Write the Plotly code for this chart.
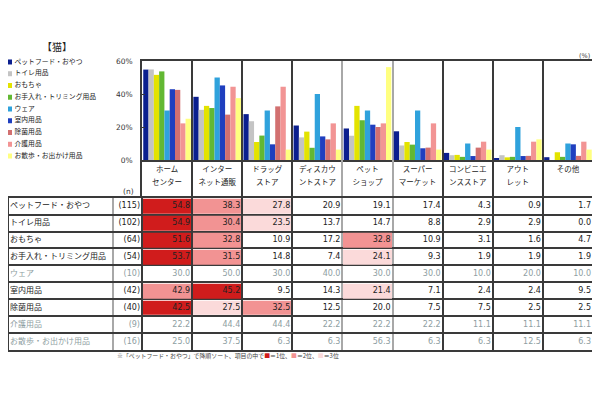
import plotly.graph_objects as go

# ---------------- data ----------------
store_line1 = ['ホーム', 'インター', 'ドラッグ', 'ディスカウ', 'ペット', 'スーパー', 'コンビニエ', 'アウト', 'その他']
store_line2 = ['センター', 'ネット通販', 'ストア', 'ントストア', 'ショップ', 'マーケット', 'ンスストア', 'レット', '']

items = ['ペットフード・おやつ', 'トイレ用品', 'おもちゃ', 'お手入れ・トリミング用品', 'ウェア',
         '室内用品', '除菌用品', '介護用品', 'お散歩・お出かけ用品']
n_counts = [115, 102, 64, 54, 10, 42, 40, 9, 16]

pet_food = [54.8, 38.3, 27.8, 20.9, 19.1, 17.4, 4.3, 0.9, 1.7]
toilet = [54.9, 30.4, 23.5, 13.7, 14.7, 8.8, 2.9, 2.9, 0.0]
toys = [51.6, 32.8, 10.9, 17.2, 32.8, 10.9, 3.1, 1.6, 4.7]
grooming = [53.7, 31.5, 14.8, 7.4, 24.1, 9.3, 1.9, 1.9, 1.9]
wear = [30.0, 50.0, 30.0, 40.0, 30.0, 30.0, 10.0, 20.0, 10.0]
indoor = [42.9, 45.2, 9.5, 14.3, 21.4, 7.1, 2.4, 2.4, 9.5]
disinfect = [42.5, 27.5, 32.5, 12.5, 20.0, 7.5, 7.5, 2.5, 2.5]
care = [22.2, 44.4, 44.4, 22.2, 22.2, 22.2, 11.1, 11.1, 11.1]
walk = [25.0, 37.5, 6.3, 6.3, 56.3, 6.3, 6.3, 12.5, 6.3]
rows = [pet_food, toilet, toys, grooming, wear, indoor, disinfect, care, walk]

y_ticks = [0, 20, 40, 60]
y_tick_text = ['0%', '20%', '40%', '60%']

# ---------------- styles ----------------
series_colors = ['#0b1f8f', '#c4c4c4', '#e3e300', '#62b833', '#2fa2dc',
                 '#1f3fbf', '#d27070', '#f29494', '#ffff80']
rank_colors = ['#d01c1c', '#f29393', '#fbdada']
dark = '#3a3a3a'
light_line = '#a8a8a8'
gray_text = '#8e9ea2'
jp = 'Noto Sans CJK JP'
num = 'DejaVu Sans'
OFF = 8                          # default page body margin
W, H = 600 - OFF, 399 - 2 * OFF  # figure size so the page never scrolls
small_n = 30


def px(p):
    return (p - OFF) / W


def py(p):
    return 1 - (p - OFF) / H


store_idx = list(range(len(store_line1)))
ncol = len(store_idx)
nrow = len(items)
unit = (593 - 142) / ncol
left_edge = -0.5 - (142 - 8.5) / unit
n_edge = -0.5 - (142 - 113) / unit


def ranks(row):
    return [1 + sum(1 for w in row if w > v) for v in row]


fig = go.Figure()

# bars
for name, row, col in zip(items, rows, series_colors):
    fig.add_trace(go.Bar(x=store_idx, y=row, name=name, marker_color=col,
                         marker_line_width=0, xaxis='x', yaxis='y',
                         hoverinfo='skip', showlegend=False))

# header labels
fig.add_trace(go.Scatter(x=store_idx, y=[0.735] * ncol, text=store_line1, mode='text',
                         textfont=dict(family=jp, size=7.5, color='#222'),
                         xaxis='x2', yaxis='y2', hoverinfo='skip', showlegend=False,
                         cliponaxis=False))
fig.add_trace(go.Scatter(x=store_idx, y=[0.39] * ncol, text=store_line2, mode='text',
                         textfont=dict(family=jp, size=7.5, color='#222'),
                         xaxis='x2', yaxis='y2', hoverinfo='skip', showlegend=False,
                         cliponaxis=False))

# table highlight cells
z = []
for n, row in zip(n_counts, rows):
    r = ranks(row)
    z.append([rk if (n >= small_n and rk <= 3) else None for rk in r])
fig.add_trace(go.Heatmap(x=store_idx, y=list(range(nrow)), z=z, zmin=1, zmax=3,
                         colorscale=[[0, rank_colors[0]], [0.5, rank_colors[1]], [1, rank_colors[2]]],
                         showscale=False, xgap=2, ygap=2, hoverinfo='skip',
                         xaxis='x3', yaxis='y3'))

row_colors = ['#222' if n >= small_n else gray_text for n in n_counts]

# row labels
fig.add_trace(go.Scatter(x=[left_edge + 0.03] * nrow, y=list(range(nrow)), text=items,
                         mode='text', textposition='middle right',
                         textfont=dict(family=jp, size=8, color=row_colors),
                         xaxis='x3', yaxis='y3', hoverinfo='skip', showlegend=False,
                         cliponaxis=False))
# n column
fig.add_trace(go.Scatter(x=[-0.5 - 0.04] * nrow, y=list(range(nrow)),
                         text=['(%d)' % n for n in n_counts],
                         mode='text', textposition='middle left',
                         textfont=dict(family=num, size=8, color=row_colors),
                         xaxis='x3', yaxis='y3', hoverinfo='skip', showlegend=False,
                         cliponaxis=False))
# values
vx, vy, vt, vc = [], [], [], []
for i, row in enumerate(rows):
    for j, v in enumerate(row):
        vx.append(j + 0.46)
        vy.append(i)
        vt.append('%.1f' % v)
        vc.append(row_colors[i])
fig.add_trace(go.Scatter(x=vx, y=vy, text=vt, mode='text', textposition='middle left',
                         textfont=dict(family=num, size=8, color=vc),
                         xaxis='x3', yaxis='y3', hoverinfo='skip', showlegend=False,
                         cliponaxis=False))

# legend (manual)
fig.add_trace(go.Scatter(x=[9.5] * nrow, y=list(range(nrow)), mode='markers',
                         marker=dict(symbol='square', size=5, color=series_colors, line_width=0),
                         xaxis='x4', yaxis='y4', hoverinfo='skip', showlegend=False,
                         cliponaxis=False))
fig.add_trace(go.Scatter(x=[14.5] * nrow, y=list(range(nrow)), text=items, mode='text',
                         textposition='middle right',
                         textfont=dict(family=jp, size=6.8, color='#222'),
                         xaxis='x4', yaxis='y4', hoverinfo='skip', showlegend=False,
                         cliponaxis=False))

boundaries = [k + 0.5 for k in range(ncol - 1)]
light_bounds = [3.5, 4.5]
dark_bounds = [b for b in boundaries if b not in light_bounds]

xdom = [px(142), px(593)]
common_x = dict(range=[-0.5, ncol - 0.5], tickmode='array', tickvals=dark_bounds,
                showticklabels=False, ticks='', showgrid=True, gridcolor=dark, gridwidth=1.5,
                minor=dict(tickmode='array', tickvals=light_bounds, showgrid=True,
                           gridcolor=light_line, gridwidth=1.5, ticks=''),
                zeroline=False, fixedrange=True)

fig.update_layout(
    width=W, height=H, autosize=False,
    margin=dict(l=0, r=0, t=0, b=0),
    paper_bgcolor='white', plot_bgcolor='rgba(0,0,0,0)',
    barmode='group', bargap=0.05, bargroupgap=0,
    showlegend=False,
    xaxis=dict(domain=xdom, anchor='y', showline=True, linecolor=dark, linewidth=1.5,
               mirror=True, automargin=False, **common_x),
    yaxis=dict(domain=[py(160), py(61)], anchor='x', range=[0, 60], tickmode='array',
               tickvals=y_ticks, ticktext=y_tick_text, showgrid=False, zeroline=False,
               showline=True, linecolor=dark, linewidth=1.5, mirror=True,
               ticks='inside', ticklen=3, tickcolor=dark, ticklabelstandoff=6,
               tickfont=dict(family=num, size=7.5, color='#333'), fixedrange=True,
               automargin=False),
    xaxis2=dict(domain=xdom, anchor='y2', showline=False, automargin=False, **common_x),
    yaxis2=dict(domain=[py(197.7), py(160)], anchor='x2', range=[0, 1], showgrid=False,
                zeroline=False, showticklabels=False, ticks='', showline=True,
                linecolor=dark, linewidth=1.5, mirror=True, fixedrange=True,
                automargin=False),
    xaxis3=dict(domain=[px(8.5), px(593)], anchor='y3', range=[left_edge, ncol - 0.5],
                tickmode='array', tickvals=[-0.5] + dark_bounds, showticklabels=False,
                ticks='', showgrid=True, gridcolor=dark, gridwidth=1.5,
                minor=dict(tickmode='array', tickvals=[n_edge] + light_bounds, showgrid=True,
                           gridcolor=light_line, gridwidth=1.5, ticks=''),
                zeroline=False, showline=True, linecolor=dark, linewidth=2, mirror=True,
                fixedrange=True, automargin=False),
    yaxis3=dict(domain=[py(350), py(197.7)], anchor='x3', range=[nrow - 0.5, -0.5],
                tickmode='array', tickvals=[k + 0.5 for k in range(nrow - 1)],
                showticklabels=False, ticks='', showgrid=True, gridcolor=dark, gridwidth=1.5,
                zeroline=False, showline=True, linecolor=dark, linewidth=2, mirror=True,
                fixedrange=True, automargin=False),
    xaxis4=dict(domain=[px(8), px(140)], anchor='y4', range=[8, 140], visible=False,
                fixedrange=True),
    yaxis4=dict(domain=[py(161.9), py(56.1)], anchor='x4', range=[nrow - 0.5, -0.5],
                visible=False, fixedrange=True),
    annotations=[
        dict(text='【猫】', x=px(57), y=py(46), xref='paper', yref='paper', showarrow=False,
             xanchor='center', yanchor='middle',
             font=dict(family=jp, size=10, color='#222')),
        dict(text='(%)', x=px(592), y=py(56), xref='paper', yref='paper', showarrow=False,
             xanchor='right', yanchor='middle', font=dict(family=num, size=6.5, color='#444')),
        dict(text='(n)', x=px(128), y=py(192), xref='paper', yref='paper', showarrow=False,
             xanchor='center', yanchor='middle', font=dict(family=num, size=7.5, color='#333')),
        dict(text=('※「ペットフード・おやつ」で降順ソート、項目の中で'
                   '<span style="color:%s">■</span>＝1位、'
                   '<span style="color:%s">■</span>＝2位、'
                   '<span style="color:%s">■</span>＝3位') % tuple(rank_colors),
             x=px(115), y=py(355.5), xref='paper', yref='paper', showarrow=False,
             xanchor='left', yanchor='middle', font=dict(family=jp, size=5.9, color='#444')),
    ],
)

fig.write_html('out.html')
